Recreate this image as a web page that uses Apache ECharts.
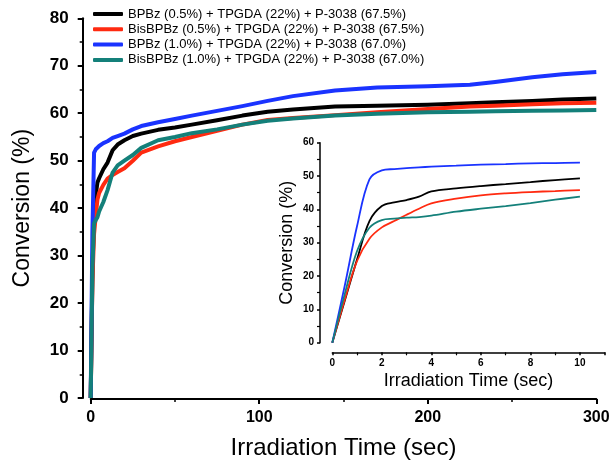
<!DOCTYPE html>
<html><head><meta charset="utf-8">
<script src="https://cdn.jsdelivr.net/npm/echarts@6/dist/echarts.min.js"></script>
<style>html,body{margin:0;padding:0;background:#fff}#c{width:613px;height:466px}</style>
</head><body><div id="c"></div>
<script>
// ---- data ----
const seriesNames = [
  'BPBz (0.5%) + TPGDA (22%) + P-3038 (67.5%)',
  'BisBPBz (0.5%) + TPGDA (22%) + P-3038 (67.5%)',
  'BPBz (1.0%) + TPGDA (22%) + P-3038 (67.0%)',
  'BisBPBz (1.0%) + TPGDA (22%) + P-3038 (67.0%)'
];
const seriesColors = ['#000000', '#ff2a10', '#1a33ff', '#14807a'];

const mainTime     = [0, 1, 2, 3, 4, 5, 7.5, 10, 13, 16, 20, 25, 30, 40, 50, 60, 75, 90, 105, 120, 145, 170, 200, 225, 240, 262, 280, 300];
const mainBPBz05   = [0, 25, 41, 42.8, 45.4, 46.3, 48.2, 49.6, 52.2, 53.4, 54.3, 55.2, 55.7, 56.5, 57.0, 57.6, 58.5, 59.5, 60.3, 60.8, 61.4, 61.6, 61.8, 62.1, 62.3, 62.6, 62.9, 63.1];
const mainBisBPBz05= [0, 24.5, 34.6, 38.4, 41.8, 43.2, 44.9, 46.2, 47.0, 47.6, 48.4, 50.0, 51.7, 53.0, 54.1, 55.0, 56.3, 57.6, 58.6, 59.0, 59.6, 60.2, 60.9, 61.4, 61.6, 61.9, 62.1, 62.2];
const mainBPBz10   = [0, 35, 51.7, 52.4, 52.8, 53.1, 53.7, 54.1, 54.8, 55.2, 55.7, 56.6, 57.3, 58.1, 58.8, 59.5, 60.5, 61.5, 62.6, 63.6, 64.8, 65.4, 65.7, 66.0, 66.6, 67.6, 68.2, 68.7];
const mainBisBPBz10= [0, 27.5, 36.8, 37.5, 38.1, 39.3, 41.3, 43.8, 47.5, 49.0, 50.0, 51.2, 52.7, 54.3, 55.0, 55.8, 56.6, 57.6, 58.4, 58.9, 59.5, 59.9, 60.2, 60.3, 60.4, 60.5, 60.6, 60.7];

const insetTime     = [0, 0.5, 1, 1.5, 2, 2.5, 3, 3.5, 4, 5, 6, 7, 8, 9, 10];
const insetBPBz05   = [0, 12.5, 25, 36.5, 41, 42.1, 42.8, 43.8, 45.4, 46.3, 47.0, 47.6, 48.2, 48.8, 49.3];
const insetBisBPBz05= [0, 12.8, 24.5, 31.2, 34.6, 36.5, 38.4, 40.2, 41.8, 43.2, 44.2, 44.8, 45.2, 45.5, 45.8];
const insetBPBz10   = [0, 17, 35, 49, 51.7, 52.1, 52.4, 52.6, 52.8, 53.1, 53.4, 53.6, 53.8, 53.9, 54.0];
const insetBisBPBz10= [0, 14.5, 27.5, 34.5, 36.8, 37.2, 37.5, 37.7, 38.1, 39.3, 40.2, 41.0, 41.9, 42.9, 43.8];

const mainValues  = [mainBPBz05, mainBisBPBz05, mainBPBz10, mainBisBPBz10];
const insetValues = [insetBPBz05, insetBisBPBz05, insetBPBz10, insetBisBPBz10];

const mainXTicks = { min: 0, max: 300, interval: 100 };
const mainYTicks = { min: 0, max: 80, interval: 10 };
const insetXTicks = { min: 0, max: 11, interval: 2 };
const insetYTicks = { min: 0, max: 60, interval: 10 };

// ---- chart ----
const FONT = 'Liberation Sans, Arial, sans-serif';
const pair = (xs, ys) => xs.map((x, i) => [x, ys[i]]);
const black = '#000';

function axisCommon(o) {
  return Object.assign({
    type: 'value',
    splitLine: { show: false },
    axisLine: { show: true, onZero: false, lineStyle: { color: black, width: 2 } },
    axisTick: { show: true, inside: false, length: 5, lineStyle: { color: black, width: 2 } },
    minorTick: { show: true, splitNumber: 2, length: 3, lineStyle: { color: black, width: 1.5 } },
    nameLocation: 'middle'
  }, o);
}

const chart = echarts.init(document.getElementById('c'), null, { renderer: 'canvas' });
const series = [];
seriesNames.forEach((n, i) => {
  series.push({
    name: n, type: 'line', xAxisIndex: 0, yAxisIndex: 0,
    data: pair(mainTime, mainValues[i]), showSymbol: false, clip: false,
    smooth: false,
    lineStyle: { color: seriesColors[i], width: 4, join: 'round' }, itemStyle: { color: seriesColors[i] }
  });
});
seriesNames.forEach((n, i) => {
  series.push({
    name: n, type: 'line', xAxisIndex: 1, yAxisIndex: 1,
    data: pair(insetTime, insetValues[i]), showSymbol: false, clip: false,
    smooth: 0.35,
    lineStyle: { color: seriesColors[i], width: 1.8 }, itemStyle: { color: seriesColors[i] }
  });
});

chart.setOption({
  animation: false,
  backgroundColor: '#fff',
  grid: [
    { left: 90.7, right: 16.7, top: 18.3, bottom: 68 },
    { left: 332.3, right: 8.3, top: 142.7, bottom: 123.3 }
  ],
  legend: {
    data: seriesNames, orient: 'vertical', left: 93, top: 7, padding: 0,
    icon: 'roundRect', itemWidth: 30, itemHeight: 4, itemGap: 1.3,
    textStyle: { fontFamily: FONT, fontSize: 13, lineHeight: 14, color: black }
  },
  xAxis: [
    axisCommon(Object.assign({ gridIndex: 0, offset: 1,
      name: 'Irradiation Time (sec)', nameGap: 37,
      nameTextStyle: { fontFamily: FONT, fontSize: 24, color: black },
      axisLabel: { fontFamily: FONT, fontWeight: 'bold', fontSize: 16, color: black, margin: 11 }
    }, mainXTicks)),
    axisCommon(Object.assign({ gridIndex: 1, offset: 9.6,
      name: 'Irradiation Time (sec)', nameGap: 20,
      nameTextStyle: { fontFamily: FONT, fontSize: 18, color: black },
      axisLine: { show: true, onZero: false, lineStyle: { color: black, width: 1.5 } },
      axisTick: { show: true, length: 3, lineStyle: { color: black, width: 1.5 } },
      minorTick: { show: true, splitNumber: 2, length: 3, lineStyle: { color: black, width: 1.2 } },
      axisLabel: { fontFamily: FONT, fontWeight: 'bold', fontSize: 10, color: black, margin: 6, showMaxLabel: false }
    }, insetXTicks))
  ],
  yAxis: [
    axisCommon(Object.assign({ gridIndex: 0, offset: 8,
      name: 'Conversion (%)', nameGap: 49,
      nameTextStyle: { fontFamily: FONT, fontSize: 23, color: black },
      axisLabel: { fontFamily: FONT, fontWeight: 'bold', fontSize: 17, color: black, margin: 14 }
    }, mainYTicks)),
    axisCommon(Object.assign({ gridIndex: 1, offset: 12.3,
      name: 'Conversion (%)', nameGap: 24,
      nameTextStyle: { fontFamily: FONT, fontSize: 18, color: black },
      axisLine: { show: true, onZero: false, lineStyle: { color: black, width: 1.5 } },
      axisTick: { show: true, length: 3, lineStyle: { color: black, width: 1.5 } },
      minorTick: { show: true, splitNumber: 2, length: 3, lineStyle: { color: black, width: 1.2 } },
      axisLabel: { fontFamily: FONT, fontWeight: 'bold', fontSize: 10, color: black, margin: 6 }
    }, insetYTicks))
  ],
  series: series
});
</script>
</body></html>
